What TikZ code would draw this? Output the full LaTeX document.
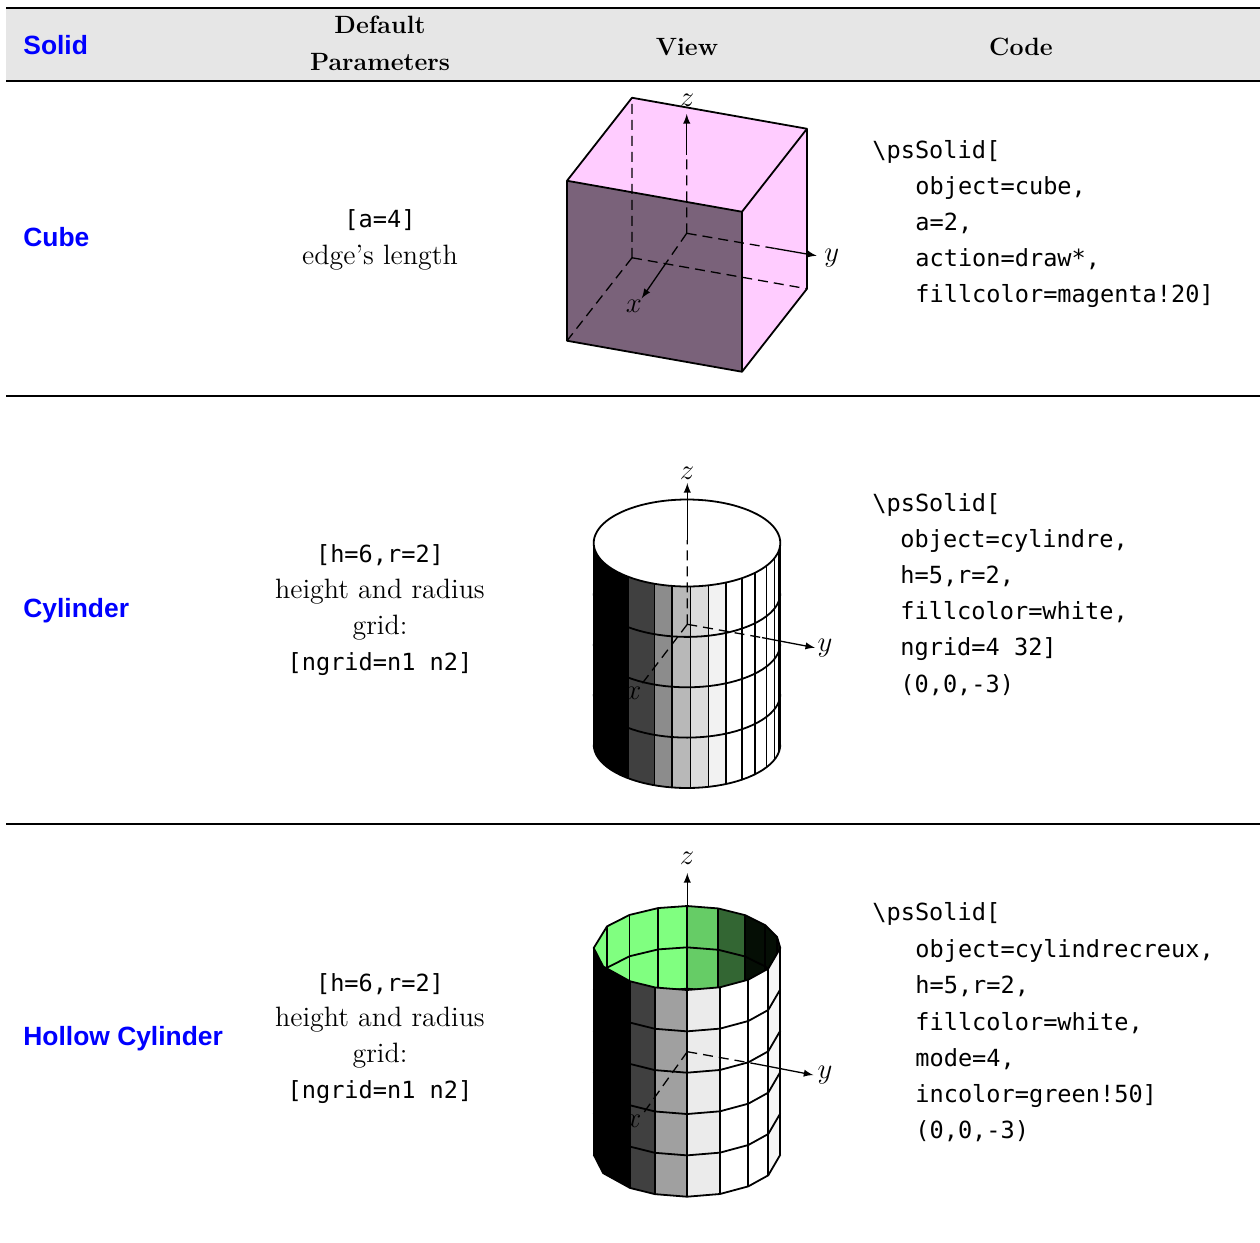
\documentclass[tikz,border=0pt]{standalone}
\usepackage{fontspec}
\setmonofont{DejaVu Sans Mono}
\newfontfamily\solidfont{Liberation Sans}
\usepackage{tikz}
\usetikzlibrary{positioning,arrows}

\definecolor{headgray}{RGB}{230,230,230}
\definecolor{cubepink}{RGB}{255,204,255}
\definecolor{cubefront}{RGB}{122,98,122}
\definecolor{shadeA}{RGB}{64,64,64}
\definecolor{shadeB}{RGB}{140,140,140}
\definecolor{shadeC}{RGB}{184,184,184}
\definecolor{shadeD}{RGB}{220,220,220}
\definecolor{shadeE}{RGB}{242,242,242}
\definecolor{shadeF}{RGB}{160,160,160}
\definecolor{shadeG}{RGB}{235,235,235}
\definecolor{shadeH}{RGB}{246,246,246}
\definecolor{greenA}{RGB}{128,255,128}
\definecolor{greenB}{RGB}{102,204,102}
\definecolor{greenC}{RGB}{51,102,51}
\definecolor{greenD}{RGB}{5,14,5}

\begin{document}
\begin{tikzpicture}[
    x=0.5pt, y=-0.5pt,
    hdr/.style={font=\fontsize{12.5}{15}\selectfont\bfseries, anchor=base, inner sep=0pt},
    solidname/.style={font=\solidfont\bfseries\fontsize{13.2}{16}\selectfont, text=blue, anchor=base west, inner sep=0pt},
    partext/.style={font=\fontsize{14}{17}\selectfont, anchor=base, inner sep=0pt},
    parcode/.style={font=\ttfamily\fontsize{11.8}{14}\selectfont, anchor=base, inner sep=0pt},
    codeline/.style={font=\ttfamily\fontsize{11.8}{14}\selectfont, anchor=base west, inner sep=0pt},
    outl/.style={line width=0.9pt, line join=round},
    hiddenline/.style={line width=0.65pt, dash pattern=on 5pt off 3pt},
    axarrow/.style={line width=0.65pt, -{latex[scale=1.4]}},
    axlabel/.style={font=\fontsize{15}{15}\selectfont, inner sep=0pt}
  ]
  \useasboundingbox (0,0) rectangle (1260,1243);

  % table frame
  \fill[headgray] (6,8.5) rectangle (1260,80);
  \draw[line width=1pt] (6,7.7) -- (1260,7.7);
  \draw[line width=1.2pt] (6,80.7) -- (1260,80.7);
  \draw[line width=0.6pt] (6,396) -- (1260,396);
  \draw[line width=0.6pt] (6,824) -- (1260,824);

  % header
  \node[solidname] (hsolid) at (23,54) {Solid};
  \node[hdr] (hdefault) at (380,33) {Default};
  \node[hdr] (hparam) at (380,70) {Parameters};
  \node[hdr] (hview) at (687,55) {View};
  \node[hdr] (hcode) at (1021,55) {Code};

  % names
  \node[solidname] (ncube) at (23,246) {Cube};
  \node[solidname] (ncyl) at (23,617) {Cylinder};
  \node[solidname] (nhollow) at (23,1045) {Hollow Cylinder};

  % default parameters
  \node[parcode] (pcubea) at (380,227) {[a=4]};
  \node[partext] (pcubeb) at (380,264) {edge's length};
  \node[parcode] (pcyla) at (380,562) {[h=6,r=2]};
  \node[partext] (pcylb) at (380,598) {height and radius};
  \node[partext] (pcylc) at (380,634) {grid:};
  \node[parcode] (pcyld) at (380,670) {[ngrid=n1 n2]};
  \node[parcode] (phola) at (380,991) {[h=6,r=2]};
  \node[partext] (pholb) at (380,1026) {height and radius};
  \node[partext] (pholc) at (380,1062) {grid:};
  \node[parcode] (phold) at (380,1098) {[ngrid=n1 n2]};

  % code
  \node[codeline] (ccube0) at (872,158) {\textbackslash psSolid[};
  \node[codeline] (ccube1) at (915,194) {object=cube,};
  \node[codeline] (ccube2) at (915,230) {a=2,};
  \node[codeline] (ccube3) at (915,266) {action=draw*,};
  \node[codeline] (ccube4) at (915,302) {fillcolor=magenta!20]};
  \node[codeline] (ccyl0) at (872,511) {\textbackslash psSolid[};
  \node[codeline] (ccyl1) at (900,547) {object=cylindre,};
  \node[codeline] (ccyl2) at (900,583) {h=5,r=2,};
  \node[codeline] (ccyl3) at (900,619) {fillcolor=white,};
  \node[codeline] (ccyl4) at (900,655) {ngrid=4 32]};
  \node[codeline] (ccyl5) at (900,692) {(0,0,-3)};
  \node[codeline] (chol0) at (872,920) {\textbackslash psSolid[};
  \node[codeline] (chol1) at (915,957) {object=cylindrecreux,};
  \node[codeline] (chol2) at (915,993) {h=5,r=2,};
  \node[codeline] (chol3) at (915,1030) {fillcolor=white,};
  \node[codeline] (chol4) at (915,1066) {mode=4,};
  \node[codeline] (chol5) at (915,1102) {incolor=green!50]};
  \node[codeline] (chol6) at (915,1138) {(0,0,-3)};

  % cube
  \begin{scope}[shift={(687,234.75)}, x={(-16.25pt,-20.75pt)}, y={(43.75pt,-7.75pt)}, z={(0pt,40pt)}]
    \fill[cubepink] (-1,-1,1) -- (1,-1,1) -- (1,1,1) -- (-1,1,1) -- cycle;
    \fill[cubepink] (-1,1,-1) -- (1,1,-1) -- (1,1,1) -- (-1,1,1) -- cycle;
    \fill[cubefront] (1,-1,-1) -- (1,1,-1) -- (1,1,1) -- (1,-1,1) -- cycle;
    \draw[hiddenline] (-1,-1,-1) -- (1,-1,-1) (-1,-1,-1) -- (-1,1,-1) (-1,-1,-1) -- (-1,-1,1);
    \draw[outl] (1,-1,-1) -- (1,1,-1) -- (-1,1,-1) -- (-1,1,1) -- (-1,-1,1) -- (1,-1,1) -- cycle;
    \draw[outl] (1,-1,1) -- (1,1,1) -- (1,1,-1) (1,1,1) -- (-1,1,1);
  \end{scope}
  \coordinate (o1) at (686.7,233.3);
  \coordinate (z1a) at (686.7,155);
  \coordinate (y1a) at (774.5,248.4);
  \coordinate (x1a) at (666.4,262.5);
  \node[axlabel] (z1) at (687,100) {$z$};
  \node[axlabel] (y1) at (831.7,258) {$y$};
  \node[axlabel] (x1) at (634,306) {$x$};
  \draw[hiddenline] (o1) -- (z1a) (o1) -- (y1a) (o1) -- (x1a);
  \draw[axarrow] (z1a) -- (686.7,114);
  \draw[axarrow] (y1a) -- (816.7,255.7);
  \draw[axarrow] (x1a) -- (641.7,298.3);

  % cylinder
  \foreach \ua/\ub/\col in {-90/-39/black,-39/-20.4/shadeA,-20.4/-9.15/shadeB,-9.15/2.1/shadeC,2.1/13.35/shadeD,13.35/24.6/shadeE,24.6/90/white}
    \fill[\col] plot[domain=\ua:\ub,samples=16] ({687+93.3*sin(\x)},{543+43.5*cos(\x)})
      -- plot[domain=\ub:\ua,samples=16] ({687+93.3*sin(\x)},{744.5+43.5*cos(\x)}) -- cycle;
  \foreach \u in {-39,-20.4,-9.15,2.1,13.35,24.6,35.85,47.1,58.35,69.6,80.85}
    \draw[outl] ({687+93.3*sin(\u)},{543+43.5*cos(\u)}) -- ({687+93.3*sin(\u)},{744.5+43.5*cos(\u)});
  \foreach \yc in {593.4,643.8,694.1,744.5}
    \draw[outl] plot[domain=-90:90,samples=41] ({687+93.3*sin(\x)},{\yc+43.5*cos(\x)});
  \draw[outl] (593.7,543) -- (593.7,744.5) (780.3,543) -- (780.3,744.5);
  \draw[outl,fill=white] plot[domain=0:360,samples=97] ({687+93.3*sin(\x)},{543+43.5*cos(\x)}) -- cycle;
  \coordinate (o2) at (687.3,624.3);
  \coordinate (z2a) at (687.3,540);
  \coordinate (y2a) at (762,637.6);
  \node[axlabel] (z2) at (687,473) {$z$};
  \node[axlabel] (y2) at (825,648) {$y$};
  \node[axlabel] (x2) at (633.5,693) {$x$};
  \draw[hiddenline] (o2) -- (z2a) (o2) -- (y2a) (o2) -- (641,685);
  \draw[axarrow] (z2a) -- (687.3,483);
  \draw[axarrow] (y2a) -- (815,647.7);

  % hollow cylinder
  \foreach \ua/\ub/\col in {-90/-64/black,-64/-37.6/black,-37.6/-20.1/shadeA,-20.1/0/shadeF,0/20.7/shadeG,20.7/41.1/white,41.1/60.6/white,60.6/90/shadeH}
    \fill[\col] ({687+93.3*sin(\ua)},{948+42*cos(\ua)}) -- ({687+93.3*sin(\ub)},{948+42*cos(\ub)})
      -- ({687+93.3*sin(\ub)},{1154.7+42*cos(\ub)}) -- ({687+93.3*sin(\ua)},{1154.7+42*cos(\ua)}) -- cycle;
  \foreach \u in {-64,-37.6,-20.1,0,20.7,41.1,60.6}
    \draw[outl] ({687+93.3*sin(\u)},{948+42*cos(\u)}) -- ({687+93.3*sin(\u)},{1154.7+42*cos(\u)});
  \foreach \yc in {989.34,1030.68,1072.02,1113.36,1154.7}
    \draw[outl] plot[samples at={-90,-64,-37.6,-20.1,0,20.7,41.1,60.6,90}] ({687+93.3*sin(\x)},{\yc+42*cos(\x)});
  \begin{scope}
    \clip plot[samples at={-90,-64,-37.6,-20.1,0,20.7,41.1,60.6,90}] ({687+93.3*sin(\x)},{948+42*cos(\x)})
      -- plot[samples at={75,57,38.5,19.6,0,-18,-38,-59,-90}] ({687+93.3*sin(\x)},{948-42*cos(\x)}) -- cycle;
    \foreach \ua/\ub/\col in {-90/-59/greenA,-59/-38/greenA,-38/-18/greenA,-18/0/greenA,0/19.6/greenB,19.6/38.5/greenC,38.5/57/greenD,57/75/greenD,75/90/greenD}
      \fill[\col] ({687+93.3*sin(\ua)},{948-42*cos(\ua)}) -- ({687+93.3*sin(\ub)},{948-42*cos(\ub)})
        -- ({687+93.3*sin(\ub)},{1154.7-42*cos(\ub)}) -- ({687+93.3*sin(\ua)},{1154.7-42*cos(\ua)}) -- cycle;
    \foreach \u in {-59,-38,-18,0,19.6,38.5,57,75}
      \draw[outl] ({687+93.3*sin(\u)},{948-42*cos(\u)}) -- ({687+93.3*sin(\u)},{1154.7-42*cos(\u)});
    \foreach \yc in {989.34,1030.68}
      \draw[outl] plot[samples at={-90,-75,-59,-38,-18,0,19.6,38.5,57,75,90}] ({687+93.3*sin(\x)},{\yc-42*cos(\x)});
  \end{scope}
  \draw[outl] plot[samples at={-90,-64,-37.6,-20.1,0,20.7,41.1,60.6,90}] ({687+93.3*sin(\x)},{948+42*cos(\x)})
    -- plot[samples at={75,57,38.5,19.6,0,-18,-38,-59,-90}] ({687+93.3*sin(\x)},{948-42*cos(\x)}) -- cycle;
  \draw[outl] (593.7,948) -- (593.7,1154.7) (780.3,948) -- (780.3,1154.7);
  \coordinate (o3) at (687.3,1051.7);
  \coordinate (z3a) at (687.3,990);
  \coordinate (y3a) at (758,1064.3);
  \node[axlabel] (z3) at (687,858) {$z$};
  \node[axlabel] (y3) at (825,1075) {$y$};
  \node[axlabel] (x3) at (633.3,1121.7) {$x$};
  \draw[hiddenline] (o3) -- (z3a) (o3) -- (y3a) (o3) -- (643.3,1113.3);
  \draw[axarrow] (z3a) -- (687.3,873);
  \draw[axarrow] (y3a) -- (813.3,1075);
\end{tikzpicture}
\end{document}
